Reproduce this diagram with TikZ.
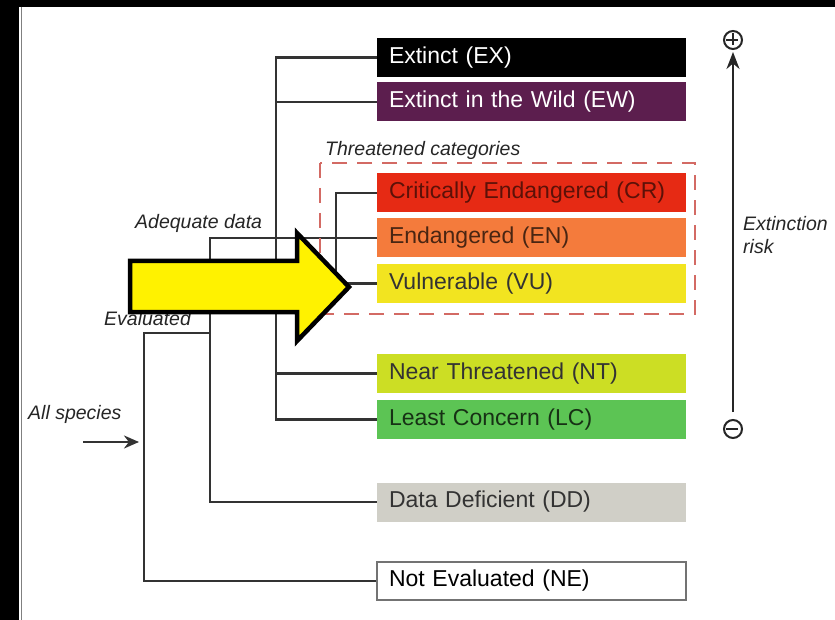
\documentclass[tikz,border=0pt]{standalone}
\usepackage{fontspec}
\setmainfont{Liberation Sans}
\usetikzlibrary{arrows.meta}
\definecolor{cEW}{HTML}{5C1E4E}
\definecolor{cCR}{HTML}{E62A14}
\definecolor{cEN}{HTML}{F47B3C}
\definecolor{cVU}{HTML}{F2E420}
\definecolor{cNT}{HTML}{CCDE24}
\definecolor{cLC}{HTML}{5CC454}
\definecolor{cDD}{HTML}{D0CFC7}
\definecolor{cDash}{HTML}{D36A64}
\definecolor{cLine}{HTML}{333333}
\begin{document}
\begin{tikzpicture}[x=1pt,y=-1pt,
  catbox/.style={rectangle, minimum height=39pt, inner xsep=12pt, inner ysep=0pt,
    text width=285pt, align=left, font=\fontsize{23}{26}\selectfont, anchor=center},
  conn/.style={draw=cLine, line width=2.5pt},
  lbl/.style={font=\fontsize{19.5}{22}\selectfont\itshape, inner sep=0pt, anchor=west, text=black!85}
]
\useasboundingbox (0,0) rectangle (835,620);
\fill[white] (0,0) rectangle (835,620);
% black frame
\fill[black] (0,0) rectangle (19,620);
\fill[black] (0,0) rectangle (835,7);
\draw[gray, line width=1pt] (21,7) -- (21,620);

% category boxes
\node[catbox, fill=black, text=white] (ex) at (531.5,57.5) {Extinct (EX)};
\node[catbox, fill=cEW, text=white] (ew) at (531.5,102) {Extinct in the Wild (EW)};
\node[catbox, fill=cCR, text=cCR!40!black] (cr) at (531.5,193) {Critically Endangered (CR)};
\node[catbox, fill=cEN, text=cEN!30!black] (en) at (531.5,238) {Endangered (EN)};
\node[catbox, fill=cVU, text=black!80] (vu) at (531.5,283.5) {Vulnerable (VU)};
\node[catbox, fill=cNT, text=black!80] (nt) at (531.5,373.5) {Near Threatened (NT)};
\node[catbox, fill=cLC, text=cLC!25!black] (lc) at (531.5,419.5) {Least Concern (LC)};
\node[catbox, fill=cDD, text=black!80] (dd) at (531.5,502) {Data Deficient (DD)};
\node[catbox, fill=white, draw=black!55, line width=1.5pt, minimum height=38pt] (ne) at (531.5,581) {Not Evaluated (NE)};

% junction coordinates
\coordinate (spine) at (276,0);
\coordinate (bracket) at (336,0);
\coordinate (adeq) at (210,238);
\coordinate (evalA) at (144,333);
\coordinate (allA) at (83,442);
\coordinate (allB) at (139,442);

% connectors
\draw[conn] (ex.west) -- (spine |- ex.west) -- (spine |- lc.west) -- (lc.west);
\draw[conn] (ew.west) -- (spine |- ew.west);
\draw[conn] (nt.west) -- (spine |- nt.west);
\draw[conn] (cr.west) -- (bracket |- cr.west) -- (bracket |- vu.west) -- (vu.west);
\draw[conn] (en.west) -- (adeq) -- (adeq |- dd.west) -- (dd.west);
\draw[conn] (adeq |- evalA) -- (evalA) -- (evalA |- ne.west) -- (ne.west);
\draw[draw=cLine, line width=2.5pt, -{Stealth[length=15pt,width=13pt]}] (allA) -- (allB);

% threatened group
\draw[cDash, line width=2.5pt, dash pattern=on 15pt off 10pt] (320,163) rectangle (695,314);
\node[lbl] (thr) at (325,150) {Threatened categories};

% labels
\node[lbl] (adl) at (135,223) {Adequate data};
\node[lbl] (evl) at (104,319) {Evaluated};
\node[lbl] (all) at (28,414) {All species};
\node[lbl, anchor=north west, align=left, font=\fontsize{19.5}{23}\selectfont\itshape] (risk) at (743,216) {Extinction\\risk};

% extinction risk scale
\node[circle, draw=black!85, line width=2pt, minimum size=18pt, inner sep=0pt] (plus) at (733,40) {};
\draw[black!85, line width=2.2pt] (plus.west) ++(3,0) -- ++(12,0);
\draw[black!85, line width=2.2pt] (plus.north) ++(0,3) -- ++(0,12);
\node[circle, draw=black!85, line width=2pt, minimum size=18pt, inner sep=0pt] (minus) at (733,429) {};
\draw[black!85, line width=2.2pt] (minus.west) ++(3,0) -- ++(12,0);
\coordinate (arrBot) at (733,412);
\coordinate (arrTop) at (733,52);
\draw[draw=black!85, line width=2.2pt, -{Stealth[length=17pt,width=13pt]}] (arrBot) -- (arrTop);

% big yellow arrow
\draw[black, line width=4.5pt, fill=yellow, line join=miter]
  (130,261) -- (297,261) -- (297,233) -- (349,287) -- (297,341) -- (297,312) -- (130,312) -- cycle;
\end{tikzpicture}
\end{document}
